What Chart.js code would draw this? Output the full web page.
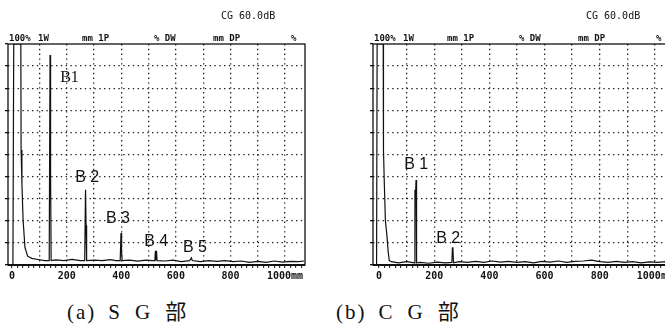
<!DOCTYPE html>
<html>
<head>
<meta charset="utf-8">
<script src="https://cdn.jsdelivr.net/npm/chart.js@4.4.0/dist/chart.umd.min.js"></script>
<style>
    html, body { margin: 0; padding: 0; background: #fff; width: 665px; height: 333px; overflow: hidden; position: relative; }
    .box { position: absolute; top: 0; height: 290px; }
    #boxSG { left: 0; width: 320px; }
    #boxCG { left: 365px; width: 325px; }
    .cap { position: absolute; top: 295px; font: 21px "Liberation Serif", "Noto Sans CJK JP", serif; color: #111; white-space: pre; }
    .cap .p { letter-spacing: 2px; }
    .cap .w { letter-spacing: 15px; margin-left: 12px; }
</style>
</head>
<body>
<div class="box" id="boxSG"><canvas id="sgChart"></canvas></div>
<div class="box" id="boxCG"><canvas id="cgChart"></canvas></div>
<div class="cap" style="left:67px"><span class="p">(a)</span><span class="w">SG部</span></div>
<div class="cap" style="left:336px"><span class="p">(b)</span><span class="w">CG部</span></div>

<script>
// ────────────────────────────────────────────────
// Data (position in mm, echo height in %)
// ────────────────────────────────────────────────
const sgPos = [3, 6, 32, 33, 36, 40, 47, 57, 72, 95, 120, 136, 139, 141, 143, 160, 190, 220, 250,
    266, 269, 271, 273, 300, 330, 360, 380, 396, 399, 401, 403, 430, 460, 490, 515,
    523, 525, 527, 529, 531, 560, 590, 620, 650, 657, 660, 690, 720, 750, 780, 810,
    840, 870, 900, 930, 960, 990, 1020, 1050, 1070];
const sgAmp = [0, 100, 100, 52, 37, 21, 8, 4, 3, 2.5, 2, 2, 95, 40, 2, 2.3, 2, 2.5, 2,
    2, 34, 18, 2, 2.2, 2, 2.4, 2, 2, 14.5, 6, 2, 2.2, 1.8, 2.2, 2,
    2, 6.4, 2, 6.4, 2, 1.8, 2.2, 1.5, 2, 3.2, 2, 1.5, 2, 1.6, 2, 1.5,
    1.8, 1.2, 1.6, 1.2, 1.8, 1.3, 1.6, 1.5, 1.8];

const cgPos = [-9, -7, 15, 16, 19, 23, 28, 33, 37, 45, 70, 100, 128, 130, 132, 133, 134, 136,
    150, 180, 210, 240, 264, 266, 267, 268, 270, 290, 320, 350, 380, 410, 440, 470,
    500, 530, 560, 590, 620, 650, 680, 710, 740, 770, 800, 830, 860, 890, 920, 950,
    980, 1010, 1040, 1070];
const cgAmp = [0, 100, 100, 52, 37, 20, 14, 6, 2, 1.5, 1, 1.5, 1, 34, 30, 30, 38.5, 1,
    1.2, 0.8, 1.3, 1, 1.2, 8, 4, 8, 1, 1.5, 1.2, 1.6, 1.2, 1.8, 1.3, 1.6,
    1.2, 1.5, 1, 1.6, 1.3, 1.8, 1.2, 1.6, 1.8, 2.2, 1.5, 1.2, 1.6, 1.2, 1.5, 1,
    1.4, 1.2, 1.5, 1.2];

const xTickValues = [0, 200, 400, 600, 800, 1000];
const xTickLabels = ['0', '200', '400', '600', '800', '1000mm'];

const sgPeakNames = ['B1', 'B 2', 'B 3', 'B 4', 'B 5'];
const sgPeakLabelX = [176, 231, 344, 484, 626];
const sgPeakLabelY = [84.5, 39.5, 21, 10.5, 8];

const cgPeakNames = ['B 1', 'B 2'];
const cgPeakLabelX = [91, 207];
const cgPeakLabelY = [45.5, 12];

const headerItems = ['100%', '1W', 'mm 1P', '% DW', 'mm DP', '%'];
const gainText = 'CG 60.0dB';

// ────────────────────────────────────────────────
// Plugin: frame, header texts, peak names
// ────────────────────────────────────────────────
const headerOffsets = [1, 30, 74, 146, 205, 283];

const sheetPlugin = {
    id: 'sheet',
    afterDatasetsDraw(chart, args, opts) {
        const { ctx, chartArea: a, scales: { x, y } } = chart;
        ctx.save();
        ctx.strokeStyle = '#111';
        ctx.lineWidth = 1.3;
        ctx.strokeRect(a.left, a.top, a.right - a.left, a.bottom - a.top);
        ctx.lineWidth = 1.8;
        ctx.beginPath();
        ctx.moveTo(a.left, a.bottom);
        ctx.lineTo(a.right, a.bottom);
        ctx.stroke();

        ctx.fillStyle = '#111';
        ctx.font = 'bold 9px "DejaVu Sans Mono"';
        headerItems.forEach((t, i) => ctx.fillText(t, a.left + headerOffsets[i], a.top - 3));
        ctx.font = '10px "DejaVu Sans Mono"';
        ctx.fillText(gainText, a.left + 213, a.top - 25);

        ctx.textBaseline = 'middle';
        opts.names.forEach((n, i) => {
            // the first SG name is set in a serif face in the original
            ctx.font = n === 'B1' ? '16px "Liberation Serif"' : '16px "Liberation Sans"';
            ctx.fillText(n, x.getPixelForValue(opts.lx[i]), y.getPixelForValue(opts.ly[i]));
        });
        ctx.restore();
    }
};

// ────────────────────────────────────────────────
// Chart builder
// ────────────────────────────────────────────────
function makeChart(id, pos, amp, names, lx, ly, xMin) {
    const minorTicks = [];
    for (let v = 0; v <= 1060; v += 20) minorTicks.push(v);

    return new Chart(document.getElementById(id), {
        type: 'scatter',
        data: {
            datasets: [{
                data: pos.map((v, i) => ({ x: v, y: amp[i] })),
                showLine: true,
                borderColor: '#111',
                borderWidth: 1.2,
                pointRadius: 0,
                tension: 0
            }]
        },
        options: {
            animation: false,
            responsive: true,
            maintainAspectRatio: false,
            layout: { padding: { top: 44, right: 15, left: 0, bottom: 0 } },
            plugins: {
                legend: { display: false },
                tooltip: { enabled: false },
                sheet: { names, lx, ly }
            },
            scales: {
                x: {
                    type: 'linear',
                    min: xMin,
                    max: 1073,
                    afterBuildTicks: s => { s.ticks = minorTicks.map(v => ({ value: v })); },
                    afterFit: s => { s.height = 25; },
                    grid: {
                        color: c => (c.tick && c.tick.value > 0 && c.tick.value % 100 === 0) ? '#222' : 'rgba(0,0,0,0)',
                        lineWidth: 1.3,
                        tickColor: '#111',
                        tickLength: 3,
                        tickWidth: 1
                    },
                    border: { display: false, dash: [1.4, 3.4] },
                    ticks: {
                        autoSkip: false,
                        maxRotation: 0,
                        padding: 2,
                        color: '#111',
                        font: { family: 'DejaVu Sans Mono', size: 10, weight: 'bold' },
                        callback: v => {
                            const i = xTickValues.indexOf(v);
                            return i < 0 ? '' : xTickLabels[i];
                        }
                    }
                },
                y: {
                    min: 0,
                    max: 100,
                    afterFit: s => { s.width = 8; },
                    ticks: { display: false, stepSize: 10 },
                    grid: {
                        color: c => (c.tick && c.tick.value > 0 && c.tick.value < 100) ? '#222' : 'rgba(0,0,0,0)',
                        lineWidth: 1.3,
                        tickColor: '#111',
                        tickLength: 3
                    },
                    border: { display: false, dash: [1.4, 3.4] }
                }
            }
        },
        plugins: [sheetPlugin]
    });
}

makeChart('sgChart', sgPos, sgAmp, sgPeakNames, sgPeakLabelX, sgPeakLabelY, -15);
makeChart('cgChart', cgPos, cgAmp, cgPeakNames, cgPeakLabelX, cgPeakLabelY, -22);
</script>
</body>
</html>
